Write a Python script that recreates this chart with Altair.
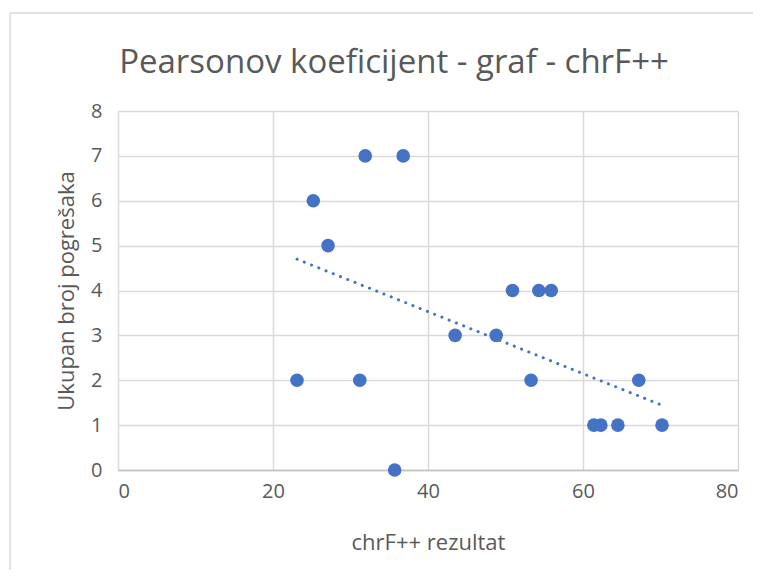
import altair as alt
import pandas as pd

chrf = [23.1, 25.2, 27.1, 31.2, 31.9, 35.7, 36.8, 43.5, 48.8, 50.9,
        53.3, 54.3, 55.9, 61.4, 62.3, 64.5, 67.2, 70.2]
errors = [2, 6, 5, 2, 7, 0, 7, 3, 3, 4,
          2, 4, 4, 1, 1, 1, 2, 1]
chart_title = "Pearsonov koeficijent - graf - chrF++"

df = pd.DataFrame({"chrF": chrf, "err": errors})

BLUE = "#4472C4"
GRAY = "#595959"
FONT = "Open Sans"

x = alt.X("chrF:Q", title="chrF++ rezultat",
          scale=alt.Scale(domain=[0, 80], nice=False),
          axis=alt.Axis(values=[0, 20, 40, 60, 80], ticks=False, domain=True,
                        domainColor="#bfbfbf", domainWidth=1.5,
                        labelPadding=11, titlePadding=31))
y = alt.Y("err:Q", title="Ukupan broj pogrešaka",
          scale=alt.Scale(domain=[0, 8], nice=False),
          axis=alt.Axis(values=list(range(9)), ticks=False, domain=False,
                        labelPadding=16, titlePadding=12))

base = alt.Chart(df)

trend = base.transform_regression("chrF", "err").mark_line(
    color=BLUE, strokeWidth=3, strokeDash=[0.1, 7.7], strokeCap="round"
).encode(x=x, y=y)

points = base.mark_circle(size=184, color=BLUE, opacity=1).encode(x=x, y=y)

one = pd.DataFrame({"t": [chart_title]})
top_border = alt.Chart(one).mark_rule(color="#d9d9d9", strokeWidth=1.5, clip=False).encode(
    x=alt.value(-108), x2=alt.value(700), y=alt.value(-98))
left_border = alt.Chart(one).mark_rule(color="#d9d9d9", strokeWidth=1.5, clip=False).encode(
    x=alt.value(-108), y=alt.value(-98), y2=alt.value(480))

title = alt.Chart(one).mark_text(
    font=FONT, fontSize=33, fontWeight="normal", color=GRAY,
    align="center", baseline="alphabetic"
).encode(text="t:N", x=alt.value(276), y=alt.value(-38))

chart = alt.layer(top_border, left_border, trend, points, title).properties(
    width=620, height=359,
    padding={"left": 110, "top": 103, "right": 15, "bottom": 100},
    autosize=alt.AutoSizeParams(type="none"),
).configure_axis(
    gridColor="#d9d9d9", gridWidth=1.5,
    labelColor=GRAY, labelFont=FONT, labelFontSize=20,
    titleColor=GRAY, titleFont=FONT, titleFontSize=22, titleFontWeight="normal",
).configure_view(stroke=None)

chart.save("out.html", embed_options={"renderer": "svg", "actions": False})
